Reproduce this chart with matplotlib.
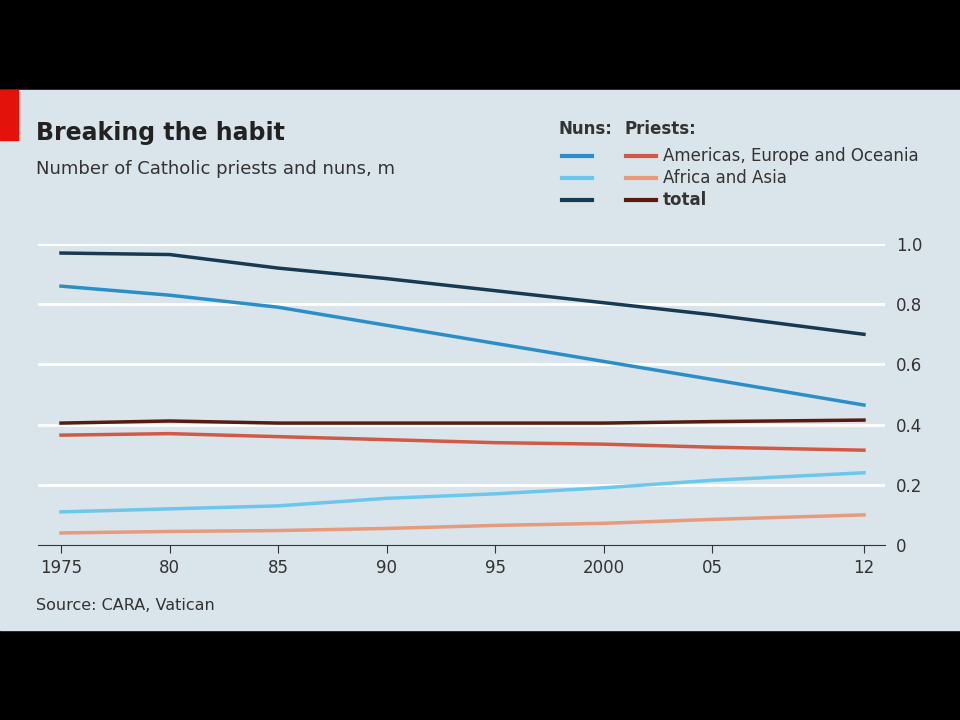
import matplotlib
matplotlib.use("Agg")
import matplotlib.pyplot as plt
from matplotlib.patches import Rectangle
from matplotlib.lines import Line2D

years = [1975, 1980, 1985, 1990, 1995, 2000, 2005, 2012]
nuns_total = [0.97, 0.965, 0.92, 0.885, 0.845, 0.805, 0.765, 0.70]
nuns_aeo = [0.86, 0.83, 0.79, 0.73, 0.67, 0.61, 0.55, 0.465]
nuns_aa = [0.11, 0.12, 0.13, 0.155, 0.17, 0.19, 0.215, 0.24]
priests_total = [0.405, 0.412, 0.405, 0.405, 0.405, 0.405, 0.41, 0.415]
priests_aeo = [0.365, 0.37, 0.36, 0.35, 0.34, 0.335, 0.325, 0.315]
priests_aa = [0.04, 0.045, 0.048, 0.055, 0.065, 0.072, 0.085, 0.10]
xtick_pos = [1975, 1980, 1985, 1990, 1995, 2000, 2005, 2012]
xtick_lab = ["1975", "80", "85", "90", "95", "2000", "05", "12"]
yticks = [0, 0.2, 0.4, 0.6, 0.8, 1.0]
ytick_lab = ["0", "0.2", "0.4", "0.6", "0.8", "1.0"]

W, H = 960, 720
bg = "#dae4eb"
fig = plt.figure(figsize=(9.6, 7.2), dpi=100, facecolor="black")
fig.add_artist(Rectangle((0, 90/H), 1, 540/H, transform=fig.transFigure, color=bg, zorder=0))
fig.add_artist(Rectangle((0, (720-140)/H), 18/W, 50/H, transform=fig.transFigure, color="#e3120b", zorder=1))

ax = fig.add_axes([38/W, (720-545)/H, (885-38)/W, (545-244)/H])
ax.set_facecolor(bg)
ax.set_xlim(1973.94, 2012.97)
ax.set_ylim(0, 1.0)
for y in yticks[1:]:
    ax.axhline(y, color="white", lw=2, zorder=1)
c_nt, c_na, c_nb = "#173a52", "#2a8fc7", "#6cc7ec"
c_pt, c_pa, c_pb = "#5a1a0f", "#d05a45", "#e79a7c"
ax.plot(years, nuns_total, color=c_nt, lw=2.5, zorder=3)
ax.plot(years, nuns_aeo, color=c_na, lw=2.5, zorder=3)
ax.plot(years, nuns_aa, color=c_nb, lw=2.5, zorder=3)
ax.plot(years, priests_total, color=c_pt, lw=2.5, zorder=3)
ax.plot(years, priests_aeo, color=c_pa, lw=2.5, zorder=3)
ax.plot(years, priests_aa, color=c_pb, lw=2.5, zorder=3)
for s in ["top", "left", "right"]:
    ax.spines[s].set_visible(False)
ax.spines["bottom"].set_color("#333333")
ax.set_xticks(xtick_pos)
ax.set_xticklabels(xtick_lab, fontsize=12, color="#333333")
ax.set_yticks(yticks)
ax.set_yticklabels(ytick_lab, fontsize=12, color="#333333")
ax.yaxis.tick_right()
ax.tick_params(axis="y", length=0, pad=8)
ax.tick_params(axis="x", length=6, color="#333333", pad=4)

fig.text(36/W, 1-133/H, "Breaking the habit", fontsize=17, fontweight="bold", color="#222222", va="center")
fig.text(36/W, 1-169/H, "Number of Catholic priests and nuns, m", fontsize=13, color="#333333", va="center")
fig.text(36/W, 1-605/H, "Source: CARA, Vatican", fontsize=11.5, color="#333333", va="center")

fig.text(558/W, 1-129/H, "Nuns:", fontsize=12, fontweight="bold", color="#333333", va="center")
fig.text(624/W, 1-129/H, "Priests:", fontsize=12, fontweight="bold", color="#333333", va="center")
labels = ["Americas, Europe and Oceania", "Africa and Asia", "total"]
ncols = [c_na, c_nb, c_nt]
pcols = [c_pa, c_pb, c_pt]
for i, (lab, nc, pc) in enumerate(zip(labels, ncols, pcols)):
    yy = 1 - (156 + 22*i)/H
    fig.add_artist(Line2D([562/W, 592/W], [yy, yy], color=nc, lw=3, transform=fig.transFigure))
    fig.add_artist(Line2D([626/W, 656/W], [yy, yy], color=pc, lw=3, transform=fig.transFigure))
    fig.text(663/W, yy, lab, fontsize=12, color="#333333", va="center",
             fontweight="bold" if lab == "total" else "normal")

fig.savefig("out.png", dpi=100, facecolor="black")
